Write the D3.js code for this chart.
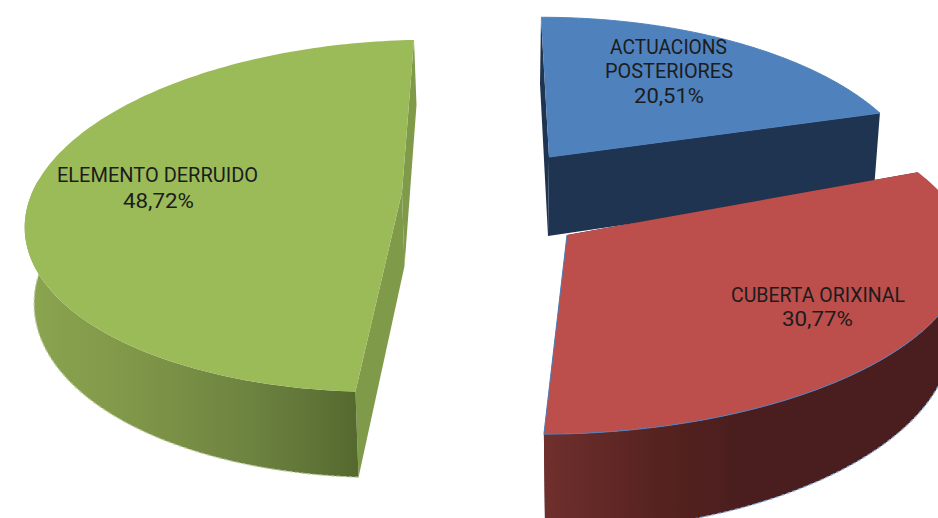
<!DOCTYPE html>
<html>
<head>
<meta charset="utf-8">
<script src="https://cdn.jsdelivr.net/npm/d3@7"></script>
<style>
body { margin: 0; background: #fff; }
svg { display: block; overflow: hidden; }
text { font-family: Roboto, sans-serif; font-size: 19.5px; fill: #1c1c1c; text-anchor: middle; }
</style>
</head>
<body>
<div id="chart"></div>
<script>
// values
const categories = ['ACTUACIONS POSTERIORES', 'CUBERTA ORIXINAL', 'ELEMENTO DERRUIDO'];
const values = [20.51, 30.77, 48.72];
const valueLabels = ['20,51%', '30,77%', '48,72%'];

// each exploded slice has its own place and its own perspective in the 3D picture
const sliceLayout = [
    {cx: 549, cy: 157, rx: 365, ry: 166, p: 0.188, lean: -8, tilt: 0, depth: 79, zx: -1, shrink: 5},
    {cx: 567, cy: 235, rx: 389, ry: 161, p: 0.188, lean: -15.4, tilt: 21, depth: 80, zx: 0, shrink: 15},
    {cx: 402, cy: 192, rx: 372, ry: 172.7, p: 0.136, lean: 12, tilt: 6, depth: 74, zx: 2.5, shrink: 7}
];
const sliceStyle = [
    {top: '#4f81bd', face: '#1f3450', wall: '#1f3450', edge: '#4f81bd', edgeFrom: 0, rim: 'none'},
    {top: '#bc4e4c', face: '#4a1e1e', wall: 'url(#wall-1)', edge: '#4f81bd', edgeFrom: 30, rim: '#8fb0d8'},
    {top: '#9bbb59', face: '#7f9a48', wall: 'url(#wall-2)', edge: 'none', edgeFrom: 0, rim: '#bccba0'}
];
const labelLines = [
    [{t: 'ACTUACIONS', x: 668.5, y: 54, w: 117}, {t: 'POSTERIORES', x: 669, y: 78, w: 128}, {t: valueLabels[0], x: 669, y: 103, w: 70}],
    [{t: 'CUBERTA ORIXINAL', x: 818, y: 302, w: 174}, {t: valueLabels[1], x: 817.5, y: 326, w: 71}],
    [{t: 'ELEMENTO DERRUIDO', x: 157.5, y: 182, w: 201}, {t: valueLabels[2], x: 158.5, y: 208, w: 71}]
];

const width = 938, height = 518;

const svg = d3.select('#chart').append('svg')
    .attr('width', width)
    .attr('height', height);

// wall shading, left to right
const defs = svg.append('defs');
const wallGradients = [
    {id: 'wall-1', x1: 545, x2: 938, stops: [[0, '#6f2f2d'], [0.3, '#55221f'], [0.5, '#4a1e1e'], [1, '#4a1e1e']]},
    {id: 'wall-2', x1: 24, x2: 354, stops: [[0, '#8ba550'], [0.35, '#7f9648'], [0.7, '#6c8240'], [1, '#566a30']]}
];
wallGradients.forEach(function(g) {
    const grad = defs.append('linearGradient')
        .attr('id', g.id)
        .attr('gradientUnits', 'userSpaceOnUse')
        .attr('x1', g.x1).attr('x2', g.x2)
        .attr('y1', 0).attr('y2', 0);
    g.stops.forEach(function(s) {
        grad.append('stop').attr('offset', s[0]).attr('stop-color', s[1]);
    });
});

const pie = d3.pie().sort(null);
const arcs = pie(values);
const line = d3.line();

// angle and radius on the slice plane -> screen, z is 0 on top and 1 at the bottom
function project(l, angle, r, z) {
    const u = Math.sin(angle) * r;
    const v = Math.cos(angle) * r;
    const s = 1 / (1 + l.p * v);
    return [
        l.cx + l.rx * u * s + l.lean * v + l.zx * z - l.shrink * u * z,
        l.cy - l.ry * v * s - l.tilt * u + l.depth * s * z
    ];
}

function arcAngles(d) {
    const angle = d3.scaleLinear().domain([0, 160]).range([d.startAngle, d.endAngle]);
    return d3.range(161).map(i => angle(i));
}

function arcPoints(l, d, z) {
    return arcAngles(d).map(a => project(l, a, 1, z));
}

// only the front of the rim shows as a wall
function wallPoints(l, d, z) {
    return arcAngles(d).filter(a => Math.cos(a) < 0.1).map(a => project(l, a, 1, z));
}

arcs.forEach(function(d, i) {
    const l = sliceLayout[i];
    const st = sliceStyle[i];
    const g = svg.append('g');

    // the two flat cut faces
    [d.startAngle, d.endAngle].forEach(function(a) {
        const face = [
            project(l, a, 1, 0), project(l, a, 1, 1),
            project(l, a, 0, 1), project(l, a, 0, 0)
        ];
        g.append('path')
            .attr('d', line(face) + 'Z')
            .attr('fill', st.face);
    });

    // outer wall and its light bottom rim
    const wallBottom = wallPoints(l, d, 1);
    if (wallBottom.length) {
        const wall = wallPoints(l, d, 0).concat(wallBottom.slice().reverse());
        g.append('path')
            .attr('d', line(wall) + 'Z')
            .attr('fill', st.wall);
        g.append('path')
            .attr('d', line(wallBottom))
            .attr('fill', 'none')
            .attr('stroke', st.rim)
            .attr('stroke-width', 1.2)
            .attr('stroke-dasharray', '4 2');
    }

    // top of the slice
    const center = project(l, 0, 0, 0);
    g.append('path')
        .attr('d', line([center].concat(arcPoints(l, d, 0))) + 'Z')
        .attr('fill', st.top);
    g.append('path')
        .attr('d', line(arcPoints(l, d, 0).slice(st.edgeFrom).concat([center])))
        .attr('fill', 'none')
        .attr('stroke', st.edge)
        .attr('stroke-width', 1);
});

// labels are narrower than Roboto, so fit each line to its measured width
labelLines.forEach(function(lines) {
    lines.forEach(function(t) {
        svg.append('text')
            .attr('x', t.x)
            .attr('y', t.y)
            .attr('textLength', t.w)
            .attr('lengthAdjust', 'spacingAndGlyphs')
            .text(t.t);
    });
});
</script>
</body>
</html>
